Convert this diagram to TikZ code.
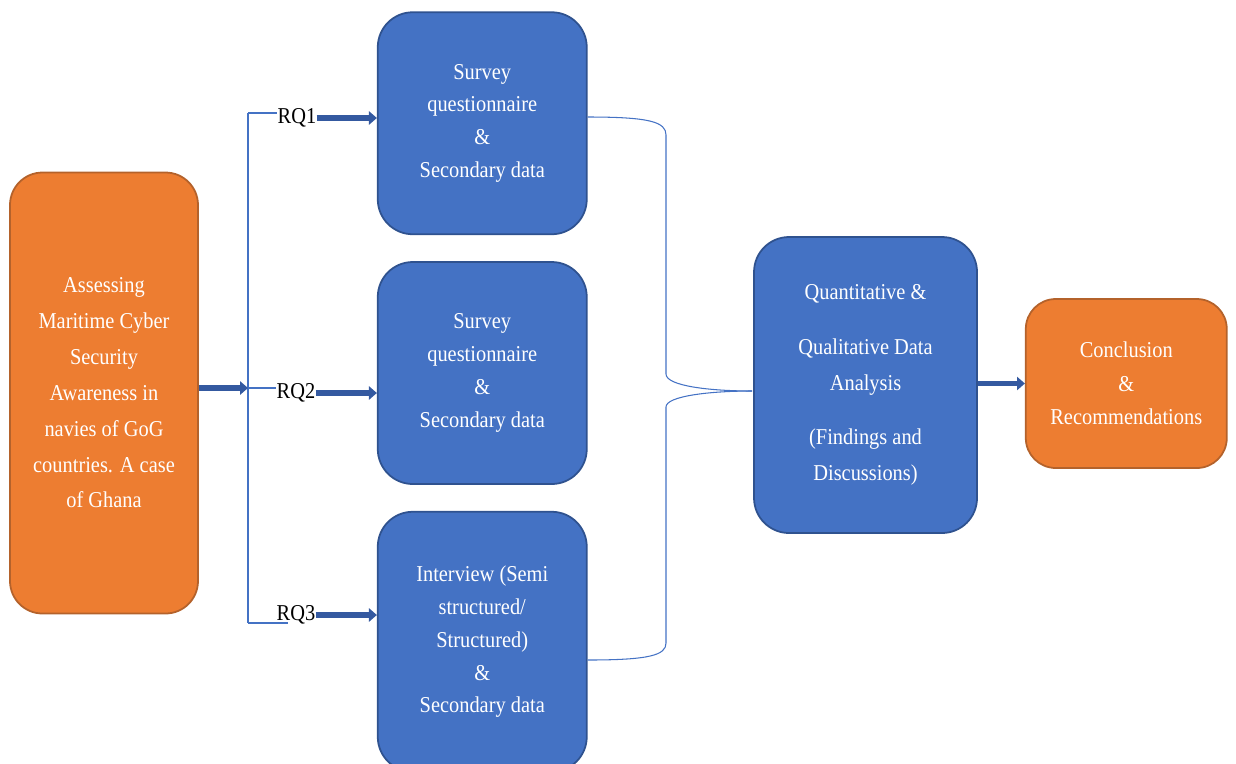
\documentclass[tikz,border=0pt]{standalone}
\usepackage{fontspec}
\setmainfont{Liberation Serif}[FakeStretch=0.9]
\usetikzlibrary{arrows.meta, positioning}
\definecolor{orangefill}{HTML}{ED7D31}
\definecolor{orangeline}{HTML}{B4622B}
\definecolor{bluefill}{HTML}{4472C4}
\definecolor{blueline}{HTML}{2F528F}
\definecolor{arrowblue}{HTML}{3459A0}
\tikzstyle{topic} = [
    rectangle, rounded corners=0.65cm, minimum width=3.76cm, minimum height=8.82cm,
    text centered, align=center, draw=orangeline, line width=1pt, fill=orangefill,
    text=white, font=\fontsize{12.9}{20.4}\selectfont
]
\tikzstyle{method} = [
    rectangle, rounded corners=0.7cm, minimum width=4.18cm, minimum height=4.44cm,
    text centered, align=center, draw=blueline, line width=1pt, fill=bluefill,
    text=white, font=\fontsize{12.9}{18.7}\selectfont
]
\tikzstyle{rq} = [inner sep=0pt, font=\fontsize{12.9}{15}\selectfont]
\tikzstyle{arrow} = [line width=3pt, draw=arrowblue, -{Triangle[length=4.5pt,width=7.5pt]}]
\tikzstyle{bracket} = [line width=0.6pt, draw=bluefill]

\begin{document}
\begin{tikzpicture}
\useasboundingbox (0,0) rectangle (24.72,-15.26);

% Tema de estudio
\node (n0) [topic] at (2.08,-7.86) {Assessing\\ Maritime Cyber\\ Security\\ Awareness in\\ navies of GoG\\ countries. A case\\ of Ghana};

% Metodos por pregunta
\node (m2) [method, right=3.56cm of n0, yshift=0.4cm] {Survey\\ questionnaire\\ \&\\ Secondary data};
\node (m1) [method, above=0.52cm of m2]                {Survey\\ questionnaire\\ \&\\ Secondary data};
\node (m3) [method, below=0.52cm of m2, minimum height=5.2cm] {Interview (Semi\\ structured/\\ Structured)\\ \&\\ Secondary data};

% Analisis y conclusion
\node (qda) [method, right=3.31cm of m2, yshift=-0.24cm, minimum width=4.46cm, minimum height=5.92cm,
    font=\fontsize{12.9}{20.4}\selectfont] {Quantitative \&\\[0.38cm] Qualitative Data\\ Analysis\\[0.38cm] (Findings and\\ Discussions)};
\node (concl) [topic, right=0.94cm of qda, yshift=0.03cm, minimum width=4.02cm, minimum height=3.38cm,
    rounded corners=0.6cm, font=\fontsize{12.9}{19}\selectfont] {Conclusion\\ \&\\ Recommendations};

% Preguntas de investigacion
\node (rq1) [rq] at (5.94,-2.36) {RQ1};
\node (rq2) [rq] at (5.92,-7.86) {RQ2};
\node (rq3) [rq] at (5.92,-12.30) {RQ3};

% Corchete izquierdo
\coordinate (brtop) at (4.96,-2.26);
\coordinate (brmid) at (4.96,-7.76);
\coordinate (brbot) at (4.96,-12.46);
\draw [bracket] (brtop) -- (brbot);
\draw [bracket] (brtop) -- (brtop -| rq1.west);
\draw [bracket] (brmid) -- (brmid -| rq2.west);
\draw [bracket] (brbot) -- ++(0.8,0);

% Flechas
\draw [arrow] (n0.east |- brmid) -- (brmid);
\draw [arrow] (rq1.east) -- (rq1.east -| m1.west);
\draw [arrow] (rq2.east) -- (rq2.east -| m2.west);
\draw [arrow] (rq3.east) -- (rq3.east -| m3.west);
\draw [arrow] (qda.east |- concl.west) -- (concl.west);

% Llave derecha
\coordinate (tip) at (15.04,-7.82);
\draw [bracket] (m1.east |- 0,-2.34) .. controls (13.0,-2.34) and (13.32,-2.44) .. (13.32,-2.70)
    -- (13.32,-7.48) .. controls (13.32,-7.72) and (14.2,-7.82) .. (tip);
\draw [bracket] (tip) .. controls (14.2,-7.82) and (13.32,-7.92) .. (13.32,-8.14)
    -- (13.32,-12.86) .. controls (13.32,-13.10) and (13.0,-13.20) .. (m3.east |- 0,-13.20);

\end{tikzpicture}
\end{document}
